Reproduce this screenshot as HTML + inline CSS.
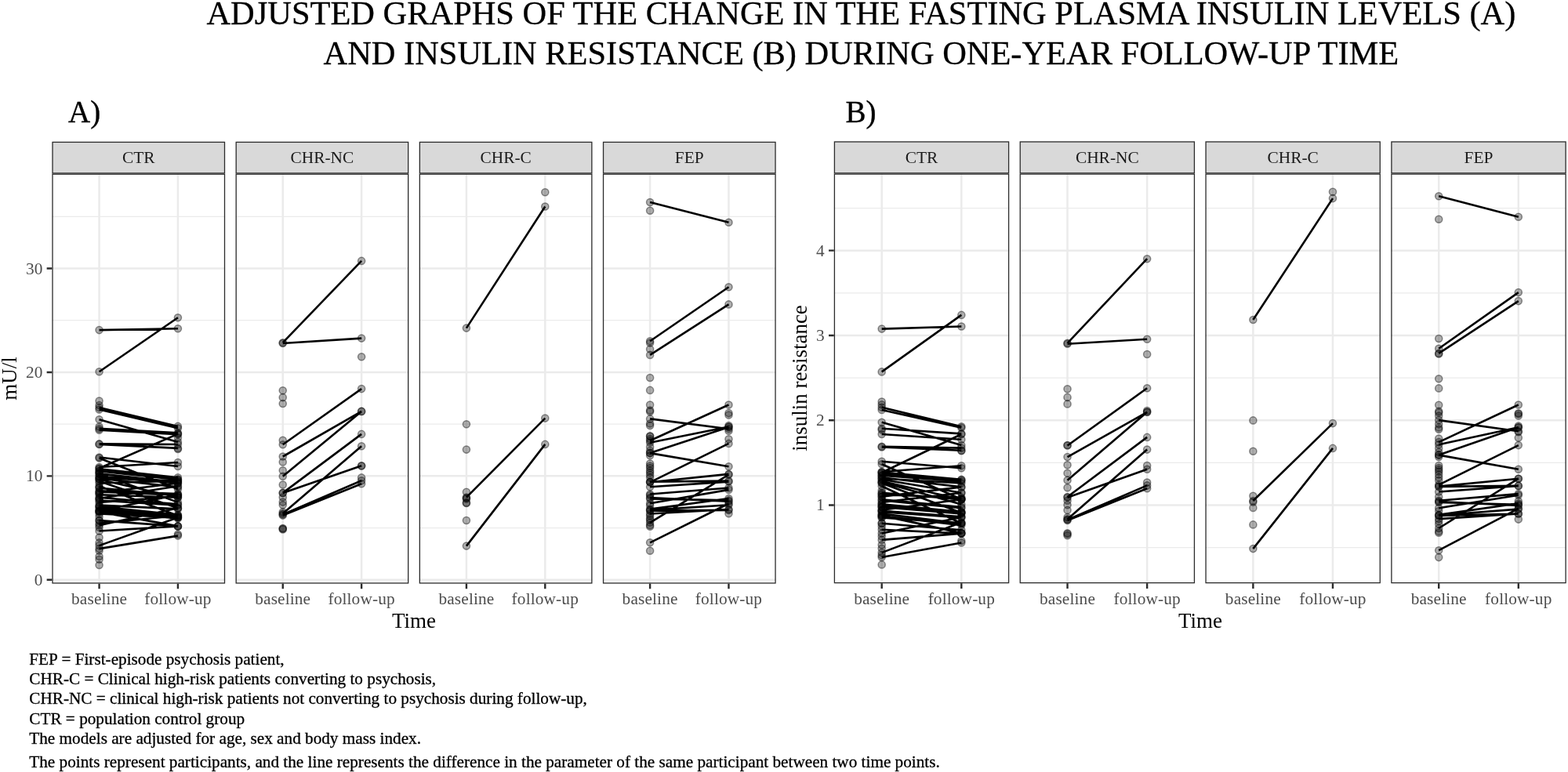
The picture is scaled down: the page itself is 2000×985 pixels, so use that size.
<!DOCTYPE html>
<html lang="en">
<head>
<meta charset="utf-8">
<title>Adjusted graphs of the change in the fasting plasma insulin levels (A) and insulin resistance (B) during one-year follow-up time</title>
<style>
html,body{margin:0;padding:0;background:#fff;}
body{width:2000px;height:985px;overflow:hidden;font-family:'Liberation Serif', 'DejaVu Serif', serif;}
svg{display:block;}
text{white-space:pre;}
</style>
</head>
<body>
<svg width="2000" height="985" viewBox="0 0 2000 985" font-family="'Liberation Serif', 'DejaVu Serif', serif">
<rect width="2000" height="985" fill="#fff"/>
<text x="1098.4" y="31.0" text-anchor="middle" font-size="42.43" fill="#000" stroke="#000" stroke-width="0.3">ADJUSTED GRAPHS OF THE CHANGE IN THE FASTING PLASMA INSULIN LEVELS (A)</text>
<text x="1098.4" y="81.5" text-anchor="middle" font-size="42.43" fill="#000" stroke="#000" stroke-width="0.3">AND INSULIN RESISTANCE (B) DURING ONE-YEAR FOLLOW-UP TIME</text>
<text x="87.0" y="156.2" font-size="39" fill="#000" stroke="#000" stroke-width="0.4">A)</text>
<text x="1078.4" y="156.2" font-size="39" fill="#000" stroke="#000" stroke-width="0.4">B)</text>
<g class="panel">
<path d="M66.35 673.58H287.15M66.35 541.15H287.15M66.35 408.72H287.15M66.35 276.29H287.15" stroke="#ebebeb" stroke-width="1.25" fill="none"/>
<path d="M66.35 739.8H287.15M66.35 607.37H287.15M66.35 474.94H287.15M66.35 342.51H287.15M126.57 221.6V744.65M226.93 221.6V744.65" stroke="#ebebeb" stroke-width="2.5" fill="none"/>
<g fill="#000" fill-opacity="0.31" stroke="#000" stroke-opacity="0.42" stroke-width="1.5">
<circle cx="126.57" cy="511.6" r="4.55"/><circle cx="126.57" cy="517" r="4.55"/><circle cx="126.57" cy="544.5" r="4.55"/><circle cx="126.57" cy="603" r="4.55"/><circle cx="126.57" cy="611" r="4.55"/><circle cx="126.57" cy="622" r="4.55"/><circle cx="126.57" cy="629.5" r="4.55"/><circle cx="126.57" cy="637" r="4.55"/><circle cx="126.57" cy="646" r="4.55"/><circle cx="126.57" cy="652.5" r="4.55"/><circle cx="126.57" cy="659.5" r="4.55"/><circle cx="126.57" cy="664" r="4.55"/><circle cx="126.57" cy="672.9" r="4.55"/><circle cx="126.57" cy="685.7" r="4.55"/><circle cx="126.57" cy="692.4" r="4.55"/><circle cx="126.57" cy="702.7" r="4.55"/><circle cx="126.57" cy="710" r="4.55"/><circle cx="126.57" cy="713.7" r="4.55"/><circle cx="126.57" cy="721" r="4.55"/><circle cx="226.93" cy="558.5" r="4.55"/><circle cx="226.93" cy="573" r="4.55"/><circle cx="226.93" cy="681.8" r="4.55"/><circle cx="126.57" cy="421.1" r="4.55"/><circle cx="226.93" cy="419.2" r="4.55"/><circle cx="126.57" cy="474.2" r="4.55"/><circle cx="226.93" cy="405.2" r="4.55"/><circle cx="126.57" cy="520.1" r="4.55"/><circle cx="226.93" cy="543.9" r="4.55"/><circle cx="126.57" cy="522.5" r="4.55"/><circle cx="226.93" cy="546.3" r="4.55"/><circle cx="126.57" cy="535.3" r="4.55"/><circle cx="226.93" cy="564" r="4.55"/><circle cx="126.57" cy="546.9" r="4.55"/><circle cx="226.93" cy="552.4" r="4.55"/><circle cx="126.57" cy="548.7" r="4.55"/><circle cx="226.93" cy="554.2" r="4.55"/><circle cx="126.57" cy="566.4" r="4.55"/><circle cx="226.93" cy="567" r="4.55"/><circle cx="126.57" cy="566.9" r="4.55"/><circle cx="226.93" cy="571.9" r="4.55"/><circle cx="126.57" cy="583.5" r="4.55"/><circle cx="226.93" cy="595" r="4.55"/><circle cx="126.57" cy="584.5" r="4.55"/><circle cx="226.93" cy="624" r="4.55"/><circle cx="126.57" cy="596" r="4.55"/><circle cx="226.93" cy="590" r="4.55"/><circle cx="126.57" cy="597.5" r="4.55"/><circle cx="226.93" cy="553.6" r="4.55"/><circle cx="126.57" cy="598.3" r="4.55"/><circle cx="226.93" cy="609.2" r="4.55"/><circle cx="126.57" cy="600.7" r="4.55"/><circle cx="226.93" cy="611.7" r="4.55"/><circle cx="126.57" cy="604.4" r="4.55"/><circle cx="226.93" cy="615.3" r="4.55"/><circle cx="126.57" cy="608" r="4.55"/><circle cx="226.93" cy="614.1" r="4.55"/><circle cx="126.57" cy="610.5" r="4.55"/><circle cx="226.93" cy="621.4" r="4.55"/><circle cx="126.57" cy="604.4" r="4.55"/><circle cx="226.93" cy="640.9" r="4.55"/><circle cx="126.57" cy="614.1" r="4.55"/><circle cx="226.93" cy="648.2" r="4.55"/><circle cx="126.57" cy="620.2" r="4.55"/><circle cx="226.93" cy="658" r="4.55"/><circle cx="126.57" cy="622.6" r="4.55"/><circle cx="226.93" cy="632.4" r="4.55"/><circle cx="126.57" cy="626.3" r="4.55"/><circle cx="226.93" cy="630" r="4.55"/><circle cx="126.57" cy="628.7" r="4.55"/><circle cx="226.93" cy="616.5" r="4.55"/><circle cx="126.57" cy="631.2" r="4.55"/><circle cx="226.93" cy="634.8" r="4.55"/><circle cx="126.57" cy="636" r="4.55"/><circle cx="226.93" cy="620.2" r="4.55"/><circle cx="126.57" cy="638.5" r="4.55"/><circle cx="226.93" cy="644.6" r="4.55"/><circle cx="126.57" cy="640.9" r="4.55"/><circle cx="226.93" cy="633.6" r="4.55"/><circle cx="126.57" cy="644.6" r="4.55"/><circle cx="226.93" cy="649.4" r="4.55"/><circle cx="126.57" cy="648.2" r="4.55"/><circle cx="226.93" cy="659.2" r="4.55"/><circle cx="126.57" cy="650.7" r="4.55"/><circle cx="226.93" cy="661.6" r="4.55"/><circle cx="126.57" cy="651.9" r="4.55"/><circle cx="226.93" cy="631.2" r="4.55"/><circle cx="126.57" cy="653.1" r="4.55"/><circle cx="226.93" cy="671.4" r="4.55"/><circle cx="126.57" cy="655.5" r="4.55"/><circle cx="226.93" cy="660.4" r="4.55"/><circle cx="126.57" cy="664.1" r="4.55"/><circle cx="226.93" cy="671.4" r="4.55"/><circle cx="126.57" cy="667.7" r="4.55"/><circle cx="226.93" cy="658" r="4.55"/><circle cx="126.57" cy="670.2" r="4.55"/><circle cx="226.93" cy="648.2" r="4.55"/><circle cx="126.57" cy="677.5" r="4.55"/><circle cx="226.93" cy="671.4" r="4.55"/><circle cx="126.57" cy="601.3" r="4.55"/><circle cx="226.93" cy="611.9" r="4.55"/><circle cx="126.57" cy="608.6" r="4.55"/><circle cx="226.93" cy="616.5" r="4.55"/><circle cx="126.57" cy="616.5" r="4.55"/><circle cx="226.93" cy="613.5" r="4.55"/><circle cx="126.57" cy="627.5" r="4.55"/><circle cx="226.93" cy="631.8" r="4.55"/><circle cx="126.57" cy="646.4" r="4.55"/><circle cx="226.93" cy="656.8" r="4.55"/><circle cx="126.57" cy="652.5" r="4.55"/><circle cx="226.93" cy="659.8" r="4.55"/><circle cx="126.57" cy="611.7" r="4.55"/><circle cx="226.93" cy="634.8" r="4.55"/><circle cx="126.57" cy="634.8" r="4.55"/><circle cx="226.93" cy="643.4" r="4.55"/><circle cx="126.57" cy="696.1" r="4.55"/><circle cx="226.93" cy="660.2" r="4.55"/><circle cx="126.57" cy="700.1" r="4.55"/><circle cx="226.93" cy="683.6" r="4.55"/>
</g>
<path d="M126.57 421.1L226.93 419.2M126.57 474.2L226.93 405.2M126.57 520.1L226.93 543.9M126.57 522.5L226.93 546.3M126.57 535.3L226.93 564M126.57 546.9L226.93 552.4M126.57 548.7L226.93 554.2M126.57 566.4L226.93 567M126.57 566.9L226.93 571.9M126.57 583.5L226.93 595M126.57 584.5L226.93 624M126.57 596L226.93 590M126.57 597.5L226.93 553.6M126.57 598.3L226.93 609.2M126.57 600.7L226.93 611.7M126.57 604.4L226.93 615.3M126.57 608L226.93 614.1M126.57 610.5L226.93 621.4M126.57 604.4L226.93 640.9M126.57 614.1L226.93 648.2M126.57 620.2L226.93 658M126.57 622.6L226.93 632.4M126.57 626.3L226.93 630M126.57 628.7L226.93 616.5M126.57 631.2L226.93 634.8M126.57 636L226.93 620.2M126.57 638.5L226.93 644.6M126.57 640.9L226.93 633.6M126.57 644.6L226.93 649.4M126.57 648.2L226.93 659.2M126.57 650.7L226.93 661.6M126.57 651.9L226.93 631.2M126.57 653.1L226.93 671.4M126.57 655.5L226.93 660.4M126.57 664.1L226.93 671.4M126.57 667.7L226.93 658M126.57 670.2L226.93 648.2M126.57 677.5L226.93 671.4M126.57 601.3L226.93 611.9M126.57 608.6L226.93 616.5M126.57 616.5L226.93 613.5M126.57 627.5L226.93 631.8M126.57 646.4L226.93 656.8M126.57 652.5L226.93 659.8M126.57 611.7L226.93 634.8M126.57 634.8L226.93 643.4M126.57 696.1L226.93 660.2M126.57 700.1L226.93 683.6" stroke="#000" stroke-width="2.6" fill="none" stroke-linecap="butt"/>
<rect x="67" y="222.25" width="219.5" height="521.75" fill="none" stroke="#2b2b2b" stroke-width="1.3"/>
<rect x="67" y="181.4" width="219.5" height="39.55" fill="#d9d9d9" stroke="#2b2b2b" stroke-width="1.3"/>
<text x="176.75" y="208.03" text-anchor="middle" font-size="21.4" fill="#1a1a1a">CTR</text>
<path d="M126.57 744.65v6.7M226.93 744.65v6.7" stroke="#2b2b2b" stroke-width="2.4" fill="none"/>
<text x="126.57" y="771.1" text-anchor="middle" font-size="21.3" letter-spacing="0.15" fill="#4d4d4d">baseline</text>
<text x="226.93" y="771.1" text-anchor="middle" font-size="21.3" letter-spacing="0.15" fill="#4d4d4d">follow-up</text>
</g>
<g class="panel">
<path d="M300.53 673.58H521.33M300.53 541.15H521.33M300.53 408.72H521.33M300.53 276.29H521.33" stroke="#ebebeb" stroke-width="1.25" fill="none"/>
<path d="M300.53 739.8H521.33M300.53 607.37H521.33M300.53 474.94H521.33M300.53 342.51H521.33M360.75 221.6V744.65M461.11 221.6V744.65" stroke="#ebebeb" stroke-width="2.5" fill="none"/>
<g fill="#000" fill-opacity="0.31" stroke="#000" stroke-opacity="0.42" stroke-width="1.5">
<circle cx="360.75" cy="498.3" r="4.55"/><circle cx="360.75" cy="507.1" r="4.55"/><circle cx="360.75" cy="515" r="4.55"/><circle cx="360.75" cy="561.8" r="4.55"/><circle cx="360.75" cy="589.5" r="4.55"/><circle cx="360.75" cy="600.3" r="4.55"/><circle cx="360.75" cy="618.5" r="4.55"/><circle cx="360.75" cy="634.5" r="4.55"/><circle cx="360.75" cy="640.6" r="4.55"/><circle cx="360.75" cy="644.2" r="4.55"/><circle cx="360.75" cy="653.2" r="4.55"/><circle cx="360.75" cy="674" r="4.55"/><circle cx="360.75" cy="674.7" r="4.55"/><circle cx="360.75" cy="675.5" r="4.55"/><circle cx="461.11" cy="455.3" r="4.55"/><circle cx="461.11" cy="594.6" r="4.55"/><circle cx="461.11" cy="609.4" r="4.55"/><circle cx="360.75" cy="437.2" r="4.55"/><circle cx="461.11" cy="332.9" r="4.55"/><circle cx="360.75" cy="438" r="4.55"/><circle cx="461.11" cy="431.6" r="4.55"/><circle cx="360.75" cy="567.3" r="4.55"/><circle cx="461.11" cy="496.1" r="4.55"/><circle cx="360.75" cy="582.5" r="4.55"/><circle cx="461.11" cy="524.9" r="4.55"/><circle cx="360.75" cy="607.7" r="4.55"/><circle cx="461.11" cy="524.9" r="4.55"/><circle cx="360.75" cy="628.9" r="4.55"/><circle cx="461.11" cy="553.9" r="4.55"/><circle cx="360.75" cy="629" r="4.55"/><circle cx="461.11" cy="594.2" r="4.55"/><circle cx="360.75" cy="655.2" r="4.55"/><circle cx="461.11" cy="569.3" r="4.55"/><circle cx="360.75" cy="656.4" r="4.55"/><circle cx="461.11" cy="613.3" r="4.55"/><circle cx="360.75" cy="657.6" r="4.55"/><circle cx="461.11" cy="617.3" r="4.55"/>
</g>
<path d="M360.75 437.2L461.11 332.9M360.75 438L461.11 431.6M360.75 567.3L461.11 496.1M360.75 582.5L461.11 524.9M360.75 607.7L461.11 524.9M360.75 628.9L461.11 553.9M360.75 629L461.11 594.2M360.75 655.2L461.11 569.3M360.75 656.4L461.11 613.3M360.75 657.6L461.11 617.3" stroke="#000" stroke-width="2.6" fill="none" stroke-linecap="butt"/>
<rect x="301.18" y="222.25" width="219.5" height="521.75" fill="none" stroke="#2b2b2b" stroke-width="1.3"/>
<rect x="301.18" y="181.4" width="219.5" height="39.55" fill="#d9d9d9" stroke="#2b2b2b" stroke-width="1.3"/>
<text x="410.93" y="208.03" text-anchor="middle" font-size="21.4" fill="#1a1a1a">CHR-NC</text>
<path d="M360.75 744.65v6.7M461.11 744.65v6.7" stroke="#2b2b2b" stroke-width="2.4" fill="none"/>
<text x="360.75" y="771.1" text-anchor="middle" font-size="21.3" letter-spacing="0.15" fill="#4d4d4d">baseline</text>
<text x="461.11" y="771.1" text-anchor="middle" font-size="21.3" letter-spacing="0.15" fill="#4d4d4d">follow-up</text>
</g>
<g class="panel">
<path d="M534.71 673.58H755.51M534.71 541.15H755.51M534.71 408.72H755.51M534.71 276.29H755.51" stroke="#ebebeb" stroke-width="1.25" fill="none"/>
<path d="M534.71 739.8H755.51M534.71 607.37H755.51M534.71 474.94H755.51M534.71 342.51H755.51M594.93 221.6V744.65M695.29 221.6V744.65" stroke="#ebebeb" stroke-width="2.5" fill="none"/>
<g fill="#000" fill-opacity="0.31" stroke="#000" stroke-opacity="0.42" stroke-width="1.5">
<circle cx="594.93" cy="541.3" r="4.55"/><circle cx="594.93" cy="573.6" r="4.55"/><circle cx="594.93" cy="627.8" r="4.55"/><circle cx="594.93" cy="635.5" r="4.55"/><circle cx="594.93" cy="636.5" r="4.55"/><circle cx="594.93" cy="641.4" r="4.55"/><circle cx="594.93" cy="642" r="4.55"/><circle cx="594.93" cy="664" r="4.55"/><circle cx="695.29" cy="245.2" r="4.55"/><circle cx="594.93" cy="418.6" r="4.55"/><circle cx="695.29" cy="263.5" r="4.55"/><circle cx="594.93" cy="634.6" r="4.55"/><circle cx="695.29" cy="533.6" r="4.55"/><circle cx="594.93" cy="696.6" r="4.55"/><circle cx="695.29" cy="566.9" r="4.55"/>
</g>
<path d="M594.93 418.6L695.29 263.5M594.93 634.6L695.29 533.6M594.93 696.6L695.29 566.9" stroke="#000" stroke-width="2.6" fill="none" stroke-linecap="butt"/>
<rect x="535.36" y="222.25" width="219.5" height="521.75" fill="none" stroke="#2b2b2b" stroke-width="1.3"/>
<rect x="535.36" y="181.4" width="219.5" height="39.55" fill="#d9d9d9" stroke="#2b2b2b" stroke-width="1.3"/>
<text x="645.11" y="208.03" text-anchor="middle" font-size="21.4" fill="#1a1a1a">CHR-C</text>
<path d="M594.93 744.65v6.7M695.29 744.65v6.7" stroke="#2b2b2b" stroke-width="2.4" fill="none"/>
<text x="594.93" y="771.1" text-anchor="middle" font-size="21.3" letter-spacing="0.15" fill="#4d4d4d">baseline</text>
<text x="695.29" y="771.1" text-anchor="middle" font-size="21.3" letter-spacing="0.15" fill="#4d4d4d">follow-up</text>
</g>
<g class="panel">
<path d="M768.89 673.58H989.69M768.89 541.15H989.69M768.89 408.72H989.69M768.89 276.29H989.69" stroke="#ebebeb" stroke-width="1.25" fill="none"/>
<path d="M768.89 739.8H989.69M768.89 607.37H989.69M768.89 474.94H989.69M768.89 342.51H989.69M829.11 221.6V744.65M929.47 221.6V744.65" stroke="#ebebeb" stroke-width="2.5" fill="none"/>
<g fill="#000" fill-opacity="0.31" stroke="#000" stroke-opacity="0.42" stroke-width="1.5">
<circle cx="829.11" cy="268.7" r="4.55"/><circle cx="829.11" cy="437.6" r="4.55"/><circle cx="829.11" cy="445.4" r="4.55"/><circle cx="829.11" cy="482" r="4.55"/><circle cx="829.11" cy="497.9" r="4.55"/><circle cx="829.11" cy="516.5" r="4.55"/><circle cx="829.11" cy="523.5" r="4.55"/><circle cx="829.11" cy="525.3" r="4.55"/><circle cx="829.11" cy="540.5" r="4.55"/><circle cx="829.11" cy="543" r="4.55"/><circle cx="829.11" cy="556.3" r="4.55"/><circle cx="829.11" cy="560" r="4.55"/><circle cx="829.11" cy="556.8" r="4.55"/><circle cx="829.11" cy="570.2" r="4.55"/><circle cx="829.11" cy="575.1" r="4.55"/><circle cx="829.11" cy="581.2" r="4.55"/><circle cx="829.11" cy="591.5" r="4.55"/><circle cx="829.11" cy="594.5" r="4.55"/><circle cx="829.11" cy="597" r="4.55"/><circle cx="829.11" cy="600.5" r="4.55"/><circle cx="829.11" cy="603.1" r="4.55"/><circle cx="829.11" cy="606" r="4.55"/><circle cx="829.11" cy="609.2" r="4.55"/><circle cx="829.11" cy="632" r="4.55"/><circle cx="829.11" cy="645" r="4.55"/><circle cx="829.11" cy="658" r="4.55"/><circle cx="829.11" cy="661.4" r="4.55"/><circle cx="829.11" cy="663.5" r="4.55"/><circle cx="829.11" cy="670" r="4.55"/><circle cx="829.11" cy="671.8" r="4.55"/><circle cx="829.11" cy="702.8" r="4.55"/><circle cx="929.47" cy="527.1" r="4.55"/><circle cx="929.47" cy="529.5" r="4.55"/><circle cx="929.47" cy="543" r="4.55"/><circle cx="929.47" cy="549.7" r="4.55"/><circle cx="929.47" cy="560.2" r="4.55"/><circle cx="929.47" cy="655.3" r="4.55"/><circle cx="829.11" cy="258.1" r="4.55"/><circle cx="929.47" cy="283.7" r="4.55"/><circle cx="829.11" cy="435.2" r="4.55"/><circle cx="929.47" cy="366.2" r="4.55"/><circle cx="829.11" cy="452.9" r="4.55"/><circle cx="929.47" cy="388.4" r="4.55"/><circle cx="829.11" cy="534.4" r="4.55"/><circle cx="929.47" cy="547.2" r="4.55"/><circle cx="829.11" cy="562.3" r="4.55"/><circle cx="929.47" cy="516.5" r="4.55"/><circle cx="829.11" cy="564.7" r="4.55"/><circle cx="929.47" cy="544.6" r="4.55"/><circle cx="829.11" cy="578.1" r="4.55"/><circle cx="929.47" cy="544.9" r="4.55"/><circle cx="829.11" cy="578.1" r="4.55"/><circle cx="929.47" cy="595.2" r="4.55"/><circle cx="829.11" cy="615.3" r="4.55"/><circle cx="929.47" cy="565.9" r="4.55"/><circle cx="829.11" cy="615.3" r="4.55"/><circle cx="929.47" cy="604.9" r="4.55"/><circle cx="829.11" cy="614.6" r="4.55"/><circle cx="929.47" cy="613.6" r="4.55"/><circle cx="829.11" cy="621.2" r="4.55"/><circle cx="929.47" cy="614.6" r="4.55"/><circle cx="829.11" cy="630.5" r="4.55"/><circle cx="929.47" cy="622.5" r="4.55"/><circle cx="829.11" cy="635.1" r="4.55"/><circle cx="929.47" cy="639.7" r="4.55"/><circle cx="829.11" cy="636.4" r="4.55"/><circle cx="929.47" cy="638.4" r="4.55"/><circle cx="829.11" cy="642.3" r="4.55"/><circle cx="929.47" cy="624.9" r="4.55"/><circle cx="829.11" cy="649.6" r="4.55"/><circle cx="929.47" cy="636" r="4.55"/><circle cx="829.11" cy="650.9" r="4.55"/><circle cx="929.47" cy="644.3" r="4.55"/><circle cx="829.11" cy="651.6" r="4.55"/><circle cx="929.47" cy="650.9" r="4.55"/><circle cx="829.11" cy="655.5" r="4.55"/><circle cx="929.47" cy="650" r="4.55"/><circle cx="829.11" cy="666.8" r="4.55"/><circle cx="929.47" cy="605.6" r="4.55"/><circle cx="829.11" cy="692.3" r="4.55"/><circle cx="929.47" cy="642.5" r="4.55"/>
</g>
<path d="M829.11 258.1L929.47 283.7M829.11 435.2L929.47 366.2M829.11 452.9L929.47 388.4M829.11 534.4L929.47 547.2M829.11 562.3L929.47 516.5M829.11 564.7L929.47 544.6M829.11 578.1L929.47 544.9M829.11 578.1L929.47 595.2M829.11 615.3L929.47 565.9M829.11 615.3L929.47 604.9M829.11 614.6L929.47 613.6M829.11 621.2L929.47 614.6M829.11 630.5L929.47 622.5M829.11 635.1L929.47 639.7M829.11 636.4L929.47 638.4M829.11 642.3L929.47 624.9M829.11 649.6L929.47 636M829.11 650.9L929.47 644.3M829.11 651.6L929.47 650.9M829.11 655.5L929.47 650M829.11 666.8L929.47 605.6M829.11 692.3L929.47 642.5" stroke="#000" stroke-width="2.6" fill="none" stroke-linecap="butt"/>
<rect x="769.54" y="222.25" width="219.5" height="521.75" fill="none" stroke="#2b2b2b" stroke-width="1.3"/>
<rect x="769.54" y="181.4" width="219.5" height="39.55" fill="#d9d9d9" stroke="#2b2b2b" stroke-width="1.3"/>
<text x="879.29" y="208.03" text-anchor="middle" font-size="21.4" fill="#1a1a1a">FEP</text>
<path d="M829.11 744.65v6.7M929.47 744.65v6.7" stroke="#2b2b2b" stroke-width="2.4" fill="none"/>
<text x="829.11" y="771.1" text-anchor="middle" font-size="21.3" letter-spacing="0.15" fill="#4d4d4d">baseline</text>
<text x="929.47" y="771.1" text-anchor="middle" font-size="21.3" letter-spacing="0.15" fill="#4d4d4d">follow-up</text>
</g>
<path d="M59.65 739.8h6.7M59.65 607.37h6.7M59.65 474.94h6.7M59.65 342.51h6.7" stroke="#2b2b2b" stroke-width="2.4" fill="none"/>
<text x="54.35" y="746.8" text-anchor="end" font-size="21.3" fill="#4d4d4d">0</text>
<text x="54.35" y="614.37" text-anchor="end" font-size="21.3" fill="#4d4d4d">10</text>
<text x="54.35" y="481.94" text-anchor="end" font-size="21.3" fill="#4d4d4d">20</text>
<text x="54.35" y="349.51" text-anchor="end" font-size="21.3" fill="#4d4d4d">30</text>
<g class="panel">
<path d="M1063.75 698.58H1287.25M1063.75 590.32H1287.25M1063.75 482.06H1287.25M1063.75 373.8H1287.25M1063.75 265.54H1287.25" stroke="#ebebeb" stroke-width="1.25" fill="none"/>
<path d="M1063.75 644.45H1287.25M1063.75 536.19H1287.25M1063.75 427.93H1287.25M1063.75 319.67H1287.25M1124.7 221.5V744.3M1226.3 221.5V744.3" stroke="#ebebeb" stroke-width="2.5" fill="none"/>
<g fill="#000" fill-opacity="0.31" stroke="#000" stroke-opacity="0.42" stroke-width="1.5">
<circle cx="1124.7" cy="512.5" r="4.55"/><circle cx="1124.7" cy="516.2" r="4.55"/><circle cx="1124.7" cy="548.5" r="4.55"/><circle cx="1124.7" cy="607" r="4.55"/><circle cx="1124.7" cy="616" r="4.55"/><circle cx="1124.7" cy="626" r="4.55"/><circle cx="1124.7" cy="634" r="4.55"/><circle cx="1124.7" cy="643" r="4.55"/><circle cx="1124.7" cy="651" r="4.55"/><circle cx="1124.7" cy="660" r="4.55"/><circle cx="1124.7" cy="667.4" r="4.55"/><circle cx="1124.7" cy="671.4" r="4.55"/><circle cx="1124.7" cy="684.6" r="4.55"/><circle cx="1124.7" cy="695.2" r="4.55"/><circle cx="1124.7" cy="699.8" r="4.55"/><circle cx="1124.7" cy="708.4" r="4.55"/><circle cx="1124.7" cy="720.4" r="4.55"/><circle cx="1226.3" cy="575.3" r="4.55"/><circle cx="1226.3" cy="689.9" r="4.55"/><circle cx="1124.7" cy="419.6" r="4.55"/><circle cx="1226.3" cy="416.5" r="4.55"/><circle cx="1124.7" cy="474.4" r="4.55"/><circle cx="1226.3" cy="401.9" r="4.55"/><circle cx="1124.7" cy="519.8" r="4.55"/><circle cx="1226.3" cy="544.2" r="4.55"/><circle cx="1124.7" cy="522.9" r="4.55"/><circle cx="1226.3" cy="545.8" r="4.55"/><circle cx="1124.7" cy="538.7" r="4.55"/><circle cx="1226.3" cy="568" r="4.55"/><circle cx="1124.7" cy="546.7" r="4.55"/><circle cx="1226.3" cy="553.4" r="4.55"/><circle cx="1124.7" cy="554" r="4.55"/><circle cx="1226.3" cy="560.7" r="4.55"/><circle cx="1124.7" cy="569.8" r="4.55"/><circle cx="1226.3" cy="571.6" r="4.55"/><circle cx="1124.7" cy="570.5" r="4.55"/><circle cx="1226.3" cy="574.7" r="4.55"/><circle cx="1124.7" cy="588.7" r="4.55"/><circle cx="1226.3" cy="597.2" r="4.55"/><circle cx="1124.7" cy="592.3" r="4.55"/><circle cx="1226.3" cy="637" r="4.55"/><circle cx="1124.7" cy="602" r="4.55"/><circle cx="1226.3" cy="594.2" r="4.55"/><circle cx="1124.7" cy="603" r="4.55"/><circle cx="1226.3" cy="554" r="4.55"/><circle cx="1124.7" cy="604.4" r="4.55"/><circle cx="1226.3" cy="612.3" r="4.55"/><circle cx="1124.7" cy="606.8" r="4.55"/><circle cx="1226.3" cy="614.1" r="4.55"/><circle cx="1124.7" cy="609.2" r="4.55"/><circle cx="1226.3" cy="621.4" r="4.55"/><circle cx="1124.7" cy="611.7" r="4.55"/><circle cx="1226.3" cy="628.7" r="4.55"/><circle cx="1124.7" cy="614.1" r="4.55"/><circle cx="1226.3" cy="637.3" r="4.55"/><circle cx="1124.7" cy="616.5" r="4.55"/><circle cx="1226.3" cy="654.3" r="4.55"/><circle cx="1124.7" cy="620.2" r="4.55"/><circle cx="1226.3" cy="667.7" r="4.55"/><circle cx="1124.7" cy="628.7" r="4.55"/><circle cx="1226.3" cy="637.3" r="4.55"/><circle cx="1124.7" cy="631.2" r="4.55"/><circle cx="1226.3" cy="634.8" r="4.55"/><circle cx="1124.7" cy="633.6" r="4.55"/><circle cx="1226.3" cy="621.4" r="4.55"/><circle cx="1124.7" cy="637.3" r="4.55"/><circle cx="1226.3" cy="647" r="4.55"/><circle cx="1124.7" cy="640.9" r="4.55"/><circle cx="1226.3" cy="628.7" r="4.55"/><circle cx="1124.7" cy="643.4" r="4.55"/><circle cx="1226.3" cy="653.1" r="4.55"/><circle cx="1124.7" cy="647" r="4.55"/><circle cx="1226.3" cy="655.5" r="4.55"/><circle cx="1124.7" cy="650.7" r="4.55"/><circle cx="1226.3" cy="637.3" r="4.55"/><circle cx="1124.7" cy="653.1" r="4.55"/><circle cx="1226.3" cy="660.4" r="4.55"/><circle cx="1124.7" cy="655.5" r="4.55"/><circle cx="1226.3" cy="667.7" r="4.55"/><circle cx="1124.7" cy="658" r="4.55"/><circle cx="1226.3" cy="679.9" r="4.55"/><circle cx="1124.7" cy="660.4" r="4.55"/><circle cx="1226.3" cy="667.7" r="4.55"/><circle cx="1124.7" cy="602.5" r="4.55"/><circle cx="1226.3" cy="611.9" r="4.55"/><circle cx="1124.7" cy="610.5" r="4.55"/><circle cx="1226.3" cy="616.5" r="4.55"/><circle cx="1124.7" cy="630" r="4.55"/><circle cx="1226.3" cy="636" r="4.55"/><circle cx="1124.7" cy="645.8" r="4.55"/><circle cx="1226.3" cy="654.3" r="4.55"/><circle cx="1124.7" cy="651.9" r="4.55"/><circle cx="1226.3" cy="659.2" r="4.55"/><circle cx="1124.7" cy="615.3" r="4.55"/><circle cx="1226.3" cy="643.4" r="4.55"/><circle cx="1124.7" cy="638.5" r="4.55"/><circle cx="1226.3" cy="648.2" r="4.55"/><circle cx="1124.7" cy="667.7" r="4.55"/><circle cx="1226.3" cy="676.2" r="4.55"/><circle cx="1124.7" cy="711" r="4.55"/><circle cx="1226.3" cy="692.5" r="4.55"/><circle cx="1124.7" cy="705.1" r="4.55"/><circle cx="1226.3" cy="666.5" r="4.55"/><circle cx="1124.7" cy="688.9" r="4.55"/><circle cx="1226.3" cy="680.6" r="4.55"/><circle cx="1124.7" cy="680.6" r="4.55"/><circle cx="1226.3" cy="659.9" r="4.55"/><circle cx="1124.7" cy="675.7" r="4.55"/><circle cx="1226.3" cy="680.6" r="4.55"/><circle cx="1124.7" cy="657.1" r="4.55"/><circle cx="1226.3" cy="680.6" r="4.55"/><circle cx="1124.7" cy="658.2" r="4.55"/><circle cx="1226.3" cy="670.1" r="4.55"/><circle cx="1124.7" cy="647" r="4.55"/><circle cx="1226.3" cy="653.6" r="4.55"/>
</g>
<path d="M1124.7 419.6L1226.3 416.5M1124.7 474.4L1226.3 401.9M1124.7 519.8L1226.3 544.2M1124.7 522.9L1226.3 545.8M1124.7 538.7L1226.3 568M1124.7 546.7L1226.3 553.4M1124.7 554L1226.3 560.7M1124.7 569.8L1226.3 571.6M1124.7 570.5L1226.3 574.7M1124.7 588.7L1226.3 597.2M1124.7 592.3L1226.3 637M1124.7 602L1226.3 594.2M1124.7 603L1226.3 554M1124.7 604.4L1226.3 612.3M1124.7 606.8L1226.3 614.1M1124.7 609.2L1226.3 621.4M1124.7 611.7L1226.3 628.7M1124.7 614.1L1226.3 637.3M1124.7 616.5L1226.3 654.3M1124.7 620.2L1226.3 667.7M1124.7 628.7L1226.3 637.3M1124.7 631.2L1226.3 634.8M1124.7 633.6L1226.3 621.4M1124.7 637.3L1226.3 647M1124.7 640.9L1226.3 628.7M1124.7 643.4L1226.3 653.1M1124.7 647L1226.3 655.5M1124.7 650.7L1226.3 637.3M1124.7 653.1L1226.3 660.4M1124.7 655.5L1226.3 667.7M1124.7 658L1226.3 679.9M1124.7 660.4L1226.3 667.7M1124.7 602.5L1226.3 611.9M1124.7 610.5L1226.3 616.5M1124.7 630L1226.3 636M1124.7 645.8L1226.3 654.3M1124.7 651.9L1226.3 659.2M1124.7 615.3L1226.3 643.4M1124.7 638.5L1226.3 648.2M1124.7 667.7L1226.3 676.2M1124.7 711L1226.3 692.5M1124.7 705.1L1226.3 666.5M1124.7 688.9L1226.3 680.6M1124.7 680.6L1226.3 659.9M1124.7 675.7L1226.3 680.6M1124.7 657.1L1226.3 680.6M1124.7 658.2L1226.3 670.1M1124.7 647L1226.3 653.6" stroke="#000" stroke-width="2.6" fill="none" stroke-linecap="butt"/>
<rect x="1064.4" y="222.15" width="222.2" height="521.5" fill="none" stroke="#2b2b2b" stroke-width="1.3"/>
<rect x="1064.4" y="180.95" width="222.2" height="39.9" fill="#d9d9d9" stroke="#2b2b2b" stroke-width="1.3"/>
<text x="1175.5" y="207.75" text-anchor="middle" font-size="21.4" fill="#1a1a1a">CTR</text>
<path d="M1124.7 744.3v6.7M1226.3 744.3v6.7" stroke="#2b2b2b" stroke-width="2.4" fill="none"/>
<text x="1124.7" y="771.1" text-anchor="middle" font-size="21.3" letter-spacing="0.15" fill="#4d4d4d">baseline</text>
<text x="1226.3" y="771.1" text-anchor="middle" font-size="21.3" letter-spacing="0.15" fill="#4d4d4d">follow-up</text>
</g>
<g class="panel">
<path d="M1300.58 698.58H1524.08M1300.58 590.32H1524.08M1300.58 482.06H1524.08M1300.58 373.8H1524.08M1300.58 265.54H1524.08" stroke="#ebebeb" stroke-width="1.25" fill="none"/>
<path d="M1300.58 644.45H1524.08M1300.58 536.19H1524.08M1300.58 427.93H1524.08M1300.58 319.67H1524.08M1361.53 221.5V744.3M1463.13 221.5V744.3" stroke="#ebebeb" stroke-width="2.5" fill="none"/>
<g fill="#000" fill-opacity="0.31" stroke="#000" stroke-opacity="0.42" stroke-width="1.5">
<circle cx="1361.53" cy="496.3" r="4.55"/><circle cx="1361.53" cy="506.9" r="4.55"/><circle cx="1361.53" cy="515.4" r="4.55"/><circle cx="1361.53" cy="568" r="4.55"/><circle cx="1361.53" cy="593.3" r="4.55"/><circle cx="1361.53" cy="603.8" r="4.55"/><circle cx="1361.53" cy="622.2" r="4.55"/><circle cx="1361.53" cy="638.7" r="4.55"/><circle cx="1361.53" cy="644.2" r="4.55"/><circle cx="1361.53" cy="650.9" r="4.55"/><circle cx="1361.53" cy="660" r="4.55"/><circle cx="1361.53" cy="680.2" r="4.55"/><circle cx="1361.53" cy="681.4" r="4.55"/><circle cx="1361.53" cy="683.2" r="4.55"/><circle cx="1463.13" cy="452" r="4.55"/><circle cx="1463.13" cy="524" r="4.55"/><circle cx="1463.13" cy="594" r="4.55"/><circle cx="1463.13" cy="615.5" r="4.55"/><circle cx="1361.53" cy="437.8" r="4.55"/><circle cx="1463.13" cy="330.2" r="4.55"/><circle cx="1361.53" cy="438.8" r="4.55"/><circle cx="1463.13" cy="432.8" r="4.55"/><circle cx="1361.53" cy="568.5" r="4.55"/><circle cx="1463.13" cy="495.3" r="4.55"/><circle cx="1361.53" cy="583.1" r="4.55"/><circle cx="1463.13" cy="525.8" r="4.55"/><circle cx="1361.53" cy="612.7" r="4.55"/><circle cx="1463.13" cy="525.8" r="4.55"/><circle cx="1361.53" cy="634" r="4.55"/><circle cx="1463.13" cy="557.9" r="4.55"/><circle cx="1361.53" cy="634.8" r="4.55"/><circle cx="1463.13" cy="598.8" r="4.55"/><circle cx="1361.53" cy="662.4" r="4.55"/><circle cx="1463.13" cy="573.6" r="4.55"/><circle cx="1361.53" cy="663.1" r="4.55"/><circle cx="1463.13" cy="619.4" r="4.55"/><circle cx="1361.53" cy="664" r="4.55"/><circle cx="1463.13" cy="623.3" r="4.55"/>
</g>
<path d="M1361.53 437.8L1463.13 330.2M1361.53 438.8L1463.13 432.8M1361.53 568.5L1463.13 495.3M1361.53 583.1L1463.13 525.8M1361.53 612.7L1463.13 525.8M1361.53 634L1463.13 557.9M1361.53 634.8L1463.13 598.8M1361.53 662.4L1463.13 573.6M1361.53 663.1L1463.13 619.4M1361.53 664L1463.13 623.3" stroke="#000" stroke-width="2.6" fill="none" stroke-linecap="butt"/>
<rect x="1301.23" y="222.15" width="222.2" height="521.5" fill="none" stroke="#2b2b2b" stroke-width="1.3"/>
<rect x="1301.23" y="180.95" width="222.2" height="39.9" fill="#d9d9d9" stroke="#2b2b2b" stroke-width="1.3"/>
<text x="1412.33" y="207.75" text-anchor="middle" font-size="21.4" fill="#1a1a1a">CHR-NC</text>
<path d="M1361.53 744.3v6.7M1463.13 744.3v6.7" stroke="#2b2b2b" stroke-width="2.4" fill="none"/>
<text x="1361.53" y="771.1" text-anchor="middle" font-size="21.3" letter-spacing="0.15" fill="#4d4d4d">baseline</text>
<text x="1463.13" y="771.1" text-anchor="middle" font-size="21.3" letter-spacing="0.15" fill="#4d4d4d">follow-up</text>
</g>
<g class="panel">
<path d="M1537.41 698.58H1760.91M1537.41 590.32H1760.91M1537.41 482.06H1760.91M1537.41 373.8H1760.91M1537.41 265.54H1760.91" stroke="#ebebeb" stroke-width="1.25" fill="none"/>
<path d="M1537.41 644.45H1760.91M1537.41 536.19H1760.91M1537.41 427.93H1760.91M1537.41 319.67H1760.91M1598.36 221.5V744.3M1699.96 221.5V744.3" stroke="#ebebeb" stroke-width="2.5" fill="none"/>
<g fill="#000" fill-opacity="0.31" stroke="#000" stroke-opacity="0.42" stroke-width="1.5">
<circle cx="1598.36" cy="536.4" r="4.55"/><circle cx="1598.36" cy="575.8" r="4.55"/><circle cx="1598.36" cy="632.7" r="4.55"/><circle cx="1598.36" cy="640.6" r="4.55"/><circle cx="1598.36" cy="647.9" r="4.55"/><circle cx="1598.36" cy="669.4" r="4.55"/><circle cx="1699.96" cy="244.7" r="4.55"/><circle cx="1598.36" cy="408" r="4.55"/><circle cx="1699.96" cy="253.1" r="4.55"/><circle cx="1598.36" cy="639" r="4.55"/><circle cx="1699.96" cy="540.1" r="4.55"/><circle cx="1598.36" cy="700.1" r="4.55"/><circle cx="1699.96" cy="571.9" r="4.55"/>
</g>
<path d="M1598.36 408L1699.96 253.1M1598.36 639L1699.96 540.1M1598.36 700.1L1699.96 571.9" stroke="#000" stroke-width="2.6" fill="none" stroke-linecap="butt"/>
<rect x="1538.06" y="222.15" width="222.2" height="521.5" fill="none" stroke="#2b2b2b" stroke-width="1.3"/>
<rect x="1538.06" y="180.95" width="222.2" height="39.9" fill="#d9d9d9" stroke="#2b2b2b" stroke-width="1.3"/>
<text x="1649.16" y="207.75" text-anchor="middle" font-size="21.4" fill="#1a1a1a">CHR-C</text>
<path d="M1598.36 744.3v6.7M1699.96 744.3v6.7" stroke="#2b2b2b" stroke-width="2.4" fill="none"/>
<text x="1598.36" y="771.1" text-anchor="middle" font-size="21.3" letter-spacing="0.15" fill="#4d4d4d">baseline</text>
<text x="1699.96" y="771.1" text-anchor="middle" font-size="21.3" letter-spacing="0.15" fill="#4d4d4d">follow-up</text>
</g>
<g class="panel">
<path d="M1774.24 698.58H1997.74M1774.24 590.32H1997.74M1774.24 482.06H1997.74M1774.24 373.8H1997.74M1774.24 265.54H1997.74" stroke="#ebebeb" stroke-width="1.25" fill="none"/>
<path d="M1774.24 644.45H1997.74M1774.24 536.19H1997.74M1774.24 427.93H1997.74M1774.24 319.67H1997.74M1835.19 221.5V744.3M1936.79 221.5V744.3" stroke="#ebebeb" stroke-width="2.5" fill="none"/>
<g fill="#000" fill-opacity="0.31" stroke="#000" stroke-opacity="0.42" stroke-width="1.5">
<circle cx="1835.19" cy="279.7" r="4.55"/><circle cx="1835.19" cy="432" r="4.55"/><circle cx="1835.19" cy="451.5" r="4.55"/><circle cx="1835.19" cy="483.3" r="4.55"/><circle cx="1835.19" cy="495.4" r="4.55"/><circle cx="1835.19" cy="516.8" r="4.55"/><circle cx="1835.19" cy="524.7" r="4.55"/><circle cx="1835.19" cy="526.5" r="4.55"/><circle cx="1835.19" cy="541.1" r="4.55"/><circle cx="1835.19" cy="545.4" r="4.55"/><circle cx="1835.19" cy="547.8" r="4.55"/><circle cx="1835.19" cy="559.6" r="4.55"/><circle cx="1835.19" cy="572" r="4.55"/><circle cx="1835.19" cy="576.9" r="4.55"/><circle cx="1835.19" cy="583" r="4.55"/><circle cx="1835.19" cy="594" r="4.55"/><circle cx="1835.19" cy="597" r="4.55"/><circle cx="1835.19" cy="599.4" r="4.55"/><circle cx="1835.19" cy="601.9" r="4.55"/><circle cx="1835.19" cy="605.5" r="4.55"/><circle cx="1835.19" cy="609.2" r="4.55"/><circle cx="1835.19" cy="613" r="4.55"/><circle cx="1835.19" cy="634" r="4.55"/><circle cx="1835.19" cy="652" r="4.55"/><circle cx="1835.19" cy="665" r="4.55"/><circle cx="1835.19" cy="668.7" r="4.55"/><circle cx="1835.19" cy="677.9" r="4.55"/><circle cx="1835.19" cy="679.7" r="4.55"/><circle cx="1835.19" cy="711.1" r="4.55"/><circle cx="1835.19" cy="530.6" r="4.55"/><circle cx="1936.79" cy="527.2" r="4.55"/><circle cx="1936.79" cy="528.2" r="4.55"/><circle cx="1936.79" cy="543.5" r="4.55"/><circle cx="1936.79" cy="551.3" r="4.55"/><circle cx="1936.79" cy="558.6" r="4.55"/><circle cx="1936.79" cy="530.6" r="4.55"/><circle cx="1936.79" cy="639.5" r="4.55"/><circle cx="1936.79" cy="662.6" r="4.55"/><circle cx="1835.19" cy="250.2" r="4.55"/><circle cx="1936.79" cy="276.7" r="4.55"/><circle cx="1835.19" cy="444.8" r="4.55"/><circle cx="1936.79" cy="373.1" r="4.55"/><circle cx="1835.19" cy="450.9" r="4.55"/><circle cx="1936.79" cy="384.1" r="4.55"/><circle cx="1835.19" cy="536.1" r="4.55"/><circle cx="1936.79" cy="550.2" r="4.55"/><circle cx="1835.19" cy="564.1" r="4.55"/><circle cx="1936.79" cy="516.5" r="4.55"/><circle cx="1835.19" cy="567.2" r="4.55"/><circle cx="1936.79" cy="545.2" r="4.55"/><circle cx="1835.19" cy="580.6" r="4.55"/><circle cx="1936.79" cy="545.2" r="4.55"/><circle cx="1835.19" cy="580.6" r="4.55"/><circle cx="1936.79" cy="598.8" r="4.55"/><circle cx="1835.19" cy="618.6" r="4.55"/><circle cx="1936.79" cy="568.1" r="4.55"/><circle cx="1835.19" cy="620.6" r="4.55"/><circle cx="1936.79" cy="610.7" r="4.55"/><circle cx="1835.19" cy="620.9" r="4.55"/><circle cx="1936.79" cy="619.9" r="4.55"/><circle cx="1835.19" cy="627.5" r="4.55"/><circle cx="1936.79" cy="619.9" r="4.55"/><circle cx="1835.19" cy="638.7" r="4.55"/><circle cx="1936.79" cy="630.1" r="4.55"/><circle cx="1835.19" cy="640" r="4.55"/><circle cx="1936.79" cy="645" r="4.55"/><circle cx="1835.19" cy="641" r="4.55"/><circle cx="1936.79" cy="643.7" r="4.55"/><circle cx="1835.19" cy="648.3" r="4.55"/><circle cx="1936.79" cy="631.8" r="4.55"/><circle cx="1835.19" cy="656.9" r="4.55"/><circle cx="1936.79" cy="642.3" r="4.55"/><circle cx="1835.19" cy="657.5" r="4.55"/><circle cx="1936.79" cy="649.6" r="4.55"/><circle cx="1835.19" cy="657.9" r="4.55"/><circle cx="1936.79" cy="655.5" r="4.55"/><circle cx="1835.19" cy="662.1" r="4.55"/><circle cx="1936.79" cy="655.5" r="4.55"/><circle cx="1835.19" cy="674" r="4.55"/><circle cx="1936.79" cy="610.7" r="4.55"/><circle cx="1835.19" cy="702.2" r="4.55"/><circle cx="1936.79" cy="648.9" r="4.55"/>
</g>
<path d="M1835.19 250.2L1936.79 276.7M1835.19 444.8L1936.79 373.1M1835.19 450.9L1936.79 384.1M1835.19 536.1L1936.79 550.2M1835.19 564.1L1936.79 516.5M1835.19 567.2L1936.79 545.2M1835.19 580.6L1936.79 545.2M1835.19 580.6L1936.79 598.8M1835.19 618.6L1936.79 568.1M1835.19 620.6L1936.79 610.7M1835.19 620.9L1936.79 619.9M1835.19 627.5L1936.79 619.9M1835.19 638.7L1936.79 630.1M1835.19 640L1936.79 645M1835.19 641L1936.79 643.7M1835.19 648.3L1936.79 631.8M1835.19 656.9L1936.79 642.3M1835.19 657.5L1936.79 649.6M1835.19 657.9L1936.79 655.5M1835.19 662.1L1936.79 655.5M1835.19 674L1936.79 610.7M1835.19 702.2L1936.79 648.9" stroke="#000" stroke-width="2.6" fill="none" stroke-linecap="butt"/>
<rect x="1774.89" y="222.15" width="222.2" height="521.5" fill="none" stroke="#2b2b2b" stroke-width="1.3"/>
<rect x="1774.89" y="180.95" width="222.2" height="39.9" fill="#d9d9d9" stroke="#2b2b2b" stroke-width="1.3"/>
<text x="1885.99" y="207.75" text-anchor="middle" font-size="21.4" fill="#1a1a1a">FEP</text>
<path d="M1835.19 744.3v6.7M1936.79 744.3v6.7" stroke="#2b2b2b" stroke-width="2.4" fill="none"/>
<text x="1835.19" y="771.1" text-anchor="middle" font-size="21.3" letter-spacing="0.15" fill="#4d4d4d">baseline</text>
<text x="1936.79" y="771.1" text-anchor="middle" font-size="21.3" letter-spacing="0.15" fill="#4d4d4d">follow-up</text>
</g>
<path d="M1057.05 644.45h6.7M1057.05 536.19h6.7M1057.05 427.93h6.7M1057.05 319.67h6.7" stroke="#2b2b2b" stroke-width="2.4" fill="none"/>
<text x="1051.75" y="651.45" text-anchor="end" font-size="21.3" fill="#4d4d4d">1</text>
<text x="1051.75" y="543.19" text-anchor="end" font-size="21.3" fill="#4d4d4d">2</text>
<text x="1051.75" y="434.93" text-anchor="end" font-size="21.3" fill="#4d4d4d">3</text>
<text x="1051.75" y="326.67" text-anchor="end" font-size="21.3" fill="#4d4d4d">4</text>
<text x="528" y="800.8" text-anchor="middle" font-size="27" fill="#000">Time</text>
<text x="1531" y="800.8" text-anchor="middle" font-size="27" fill="#000">Time</text>
<text transform="translate(20.8 483) rotate(-90)" text-anchor="middle" font-size="27" fill="#000">mU/l</text>
<text transform="translate(1028.6 482.5) rotate(-90)" text-anchor="middle" font-size="27" fill="#000">insulin resistance</text>
<text x="37.3" y="847.5" font-size="21.23" fill="#000" stroke="#000" stroke-width="0.3">FEP = First-episode psychosis patient,</text>
<text x="37.3" y="873.1" font-size="21.23" fill="#000" stroke="#000" stroke-width="0.3">CHR-C = Clinical high-risk patients converting to psychosis,</text>
<text x="37.3" y="898.4" font-size="21.23" fill="#000" stroke="#000" stroke-width="0.3">CHR-NC = clinical high-risk patients not converting to psychosis during follow-up,</text>
<text x="37.3" y="923.6" font-size="21.23" fill="#000" stroke="#000" stroke-width="0.3">CTR = population control group</text>
<text x="37.3" y="949.4" font-size="21.23" fill="#000" stroke="#000" stroke-width="0.3">The models are adjusted for age, sex and body mass index.</text>
<text x="37.3" y="978.6" font-size="21.23" fill="#000" stroke="#000" stroke-width="0.3">The points represent participants, and the line represents the difference in the parameter of the same participant between two time points.</text>
</svg>
</body>
</html>
